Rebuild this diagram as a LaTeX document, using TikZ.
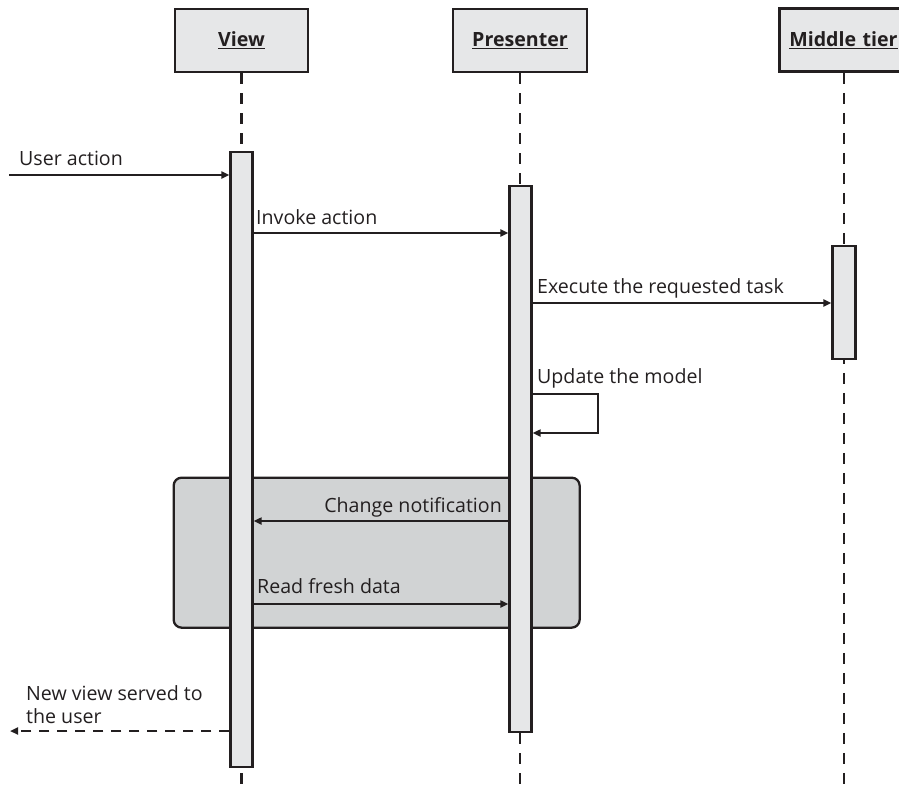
\documentclass[tikz,border=0pt]{standalone}
\usepackage{fontspec}
\setmainfont{Open Sans}
\usetikzlibrary{arrows.meta}
\definecolor{ink}{HTML}{231F20}
\definecolor{barfill}{HTML}{E6E7E8}
\definecolor{boxfill}{HTML}{D1D3D4}
\begin{document}
\begin{tikzpicture}[x=1pt,y=-1pt,
  every node/.style={font=\fontsize{19.6}{23}\selectfont, text=ink, inner sep=0pt},
  head/.style={draw=ink, fill=barfill, line width=2.6pt, minimum height=63pt, font=\fontsize{19.6}{23}\selectfont\bfseries},
  bar/.style={draw=ink, fill=barfill, line width=2.3pt, minimum width=22pt, anchor=north},
  life/.style={draw=ink, line width=2.2pt, dash pattern=on 11pt off 9pt},
  msg/.style={draw=ink, line width=2pt, -{Triangle[length=8pt,width=7pt]}},
  ret/.style={msg, dash pattern=on 10pt off 8pt},
  lbl/.style={anchor=base west}]
\useasboundingbox (0,0) rectangle (899,788);
% headers
\node[head, minimum width=133pt] (hview) at (241.5,40.5) {\underline{View}};
\node[head, minimum width=134pt] (hpres) at (520,40.5) {\underline{Presenter}};
\node[head, minimum width=140pt, anchor=west, text width=120pt, inner xsep=10pt, align=left] (hmid) at (778,40) {\underline{Middle tier}};
% lifelines
\coordinate (eview) at (241.5,788);
\coordinate (epres) at (520,788);
\coordinate (emid) at (844,788);
\draw[life] (hview.south) -- (eview);
\draw[life] (hpres.south) -- (epres);
\draw[life] (hmid.south -| emid) -- (emid);
% group box
\node[draw=ink, fill=boxfill, line width=2.3pt, rounded corners=8pt, minimum width=406pt, minimum height=150pt, anchor=north west] (grp) at (172.5,476.5) {};
% activation bars
\node[bar, minimum height=615pt] (bview) at (241.5,151) {};
\node[bar, minimum height=546pt] (bpres) at (520.5,185) {};
\node[bar, minimum width=23pt, minimum height=113pt] (bmid) at (844,245) {};
% messages
\coordinate (user) at (9,175);
\draw[msg] (user) -- (user -| bview.west);
\node[lbl] (luser) at (19,165) {User action};

\draw[msg] (bview.east |- 0,233) -- (bpres.west |- 0,233);
\node[lbl] (linv) at (256,224) {Invoke action};

\draw[msg] (bpres.east |- 0,303) -- (bmid.west |- 0,303);
\node[lbl] (lexe) at (537,293) {Execute the requested task};

\draw[msg] (bpres.east |- 0,394) -- ++(65,0) |- (bpres.east |- 0,433);
\node[lbl] (lupd) at (537,383) {Update the model};

\draw[msg] (bpres.west |- 0,521) -- (bview.east |- 0,521);
\node[anchor=base east] (lchg) at (502,512) {Change notification};

\draw[msg] (bview.east |- 0,604) -- (bpres.west |- 0,604);
\node[lbl] (lread) at (257,593) {Read fresh data};

\coordinate (out) at (10,731);
\draw[ret] (bview.west |- out) -- (out);
\node[lbl] (lnew) at (26,700) {New view served to};
\node[lbl] (lnew2) at (26,723) {the user};
\end{tikzpicture}
\end{document}
